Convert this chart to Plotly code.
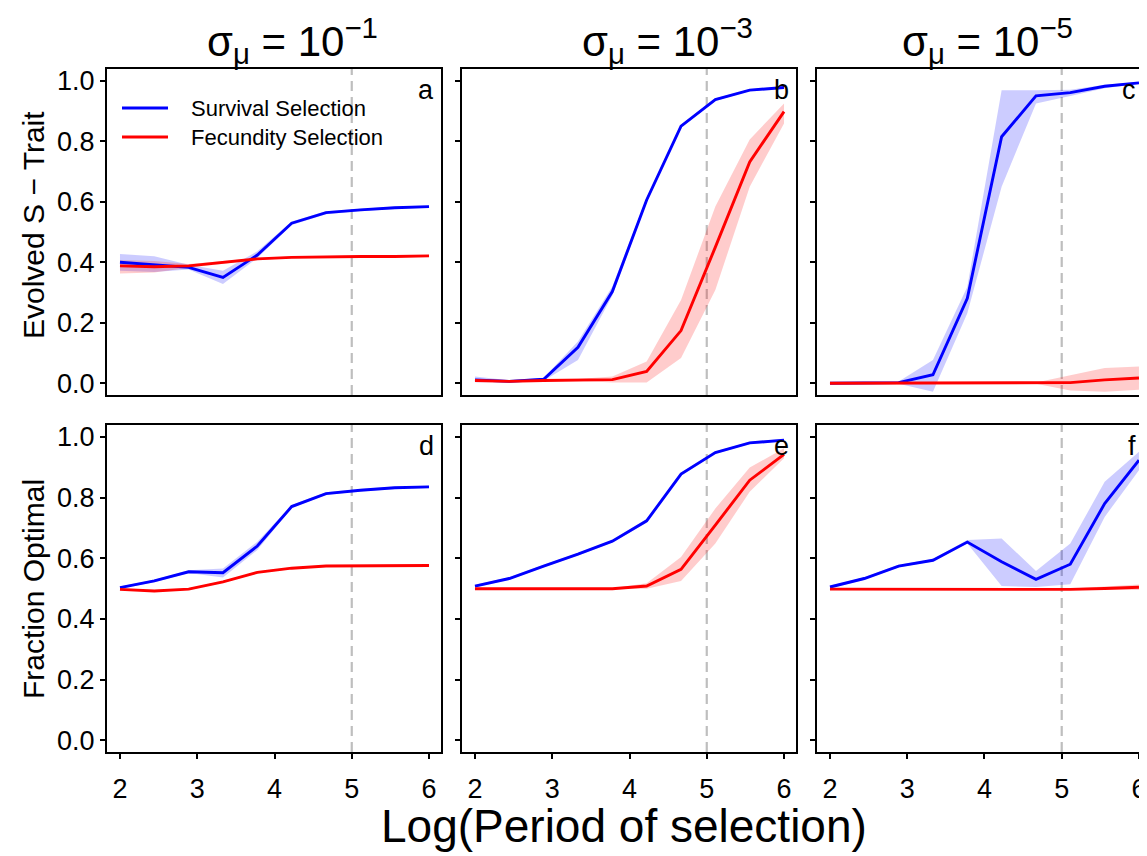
import plotly.graph_objects as go

# page body has an 8px default margin; the figure starts 8px in from the top-left
PAGE_OFF = 8
W, H = 1147 - PAGE_OFF, 856 - PAGE_OFF

# ---------------- data ----------------
log_period = [2.0, 2.444, 2.889, 3.333, 3.778, 4.222, 4.667, 5.111, 5.556, 6.0]

# Row 1: Evolved S-Trait
surv_mean_a = [0.400, 0.391, 0.383, 0.350, 0.424, 0.529, 0.564, 0.573, 0.580, 0.584]
surv_lo_a = [0.372, 0.368, 0.376, 0.328, 0.414, 0.523, 0.559, 0.569, 0.576, 0.580]
surv_hi_a = [0.427, 0.420, 0.392, 0.372, 0.436, 0.535, 0.569, 0.577, 0.584, 0.588]
fec_mean_a = [0.388, 0.385, 0.388, 0.400, 0.411, 0.416, 0.418, 0.419, 0.419, 0.421]
fec_lo_a = [0.363, 0.366, 0.382, 0.396, 0.408, 0.413, 0.415, 0.416, 0.416, 0.418]
fec_hi_a = [0.407, 0.404, 0.394, 0.404, 0.414, 0.419, 0.421, 0.422, 0.422, 0.424]

surv_mean_b = [0.011, 0.006, 0.013, 0.119, 0.303, 0.606, 0.850, 0.938, 0.969, 0.978]
surv_lo_b = [0.003, 0.003, 0.008, 0.077, 0.290, 0.598, 0.845, 0.934, 0.966, 0.975]
surv_hi_b = [0.022, 0.010, 0.018, 0.138, 0.320, 0.614, 0.855, 0.942, 0.972, 0.981]
fec_mean_b = [0.009, 0.006, 0.009, 0.011, 0.012, 0.039, 0.174, 0.450, 0.732, 0.898]
fec_lo_b = [0.005, 0.003, 0.006, 0.008, 0.002, 0.002, 0.083, 0.308, 0.650, 0.859]
fec_hi_b = [0.013, 0.009, 0.012, 0.014, 0.022, 0.072, 0.275, 0.584, 0.806, 0.925]

surv_mean_c = [0.000, 0.000, 0.002, 0.028, 0.281, 0.815, 0.950, 0.961, 0.982, 0.993]
surv_lo_c = [-0.002, -0.002, -0.002, -0.028, 0.231, 0.650, 0.925, 0.950, 0.975, 0.990]
surv_hi_c = [0.002, 0.002, 0.006, 0.077, 0.319, 0.969, 0.969, 0.970, 0.987, 0.996]
fec_mean_c = [0.000, 0.000, 0.000, 0.000, 0.000, 0.000, 0.000, 0.002, 0.011, 0.017]
fec_lo_c = [-0.002, -0.002, -0.002, -0.002, -0.002, -0.002, -0.002, -0.024, -0.028, -0.022]
fec_hi_c = [0.002, 0.002, 0.002, 0.002, 0.002, 0.002, 0.002, 0.026, 0.050, 0.055]

# Row 2: Fraction Optimal
surv_mean_d = [0.503, 0.525, 0.555, 0.552, 0.640, 0.770, 0.813, 0.824, 0.832, 0.835]
surv_lo_d = [0.499, 0.521, 0.551, 0.536, 0.627, 0.765, 0.809, 0.820, 0.828, 0.831]
surv_hi_d = [0.507, 0.529, 0.560, 0.566, 0.654, 0.775, 0.817, 0.828, 0.836, 0.839]
fec_mean_d = [0.497, 0.492, 0.498, 0.522, 0.553, 0.567, 0.574, 0.574, 0.575, 0.576]
fec_lo_d = [0.494, 0.489, 0.495, 0.519, 0.550, 0.564, 0.571, 0.571, 0.572, 0.573]
fec_hi_d = [0.500, 0.495, 0.501, 0.525, 0.556, 0.570, 0.577, 0.577, 0.578, 0.579]

surv_mean_e = [0.508, 0.533, 0.574, 0.613, 0.656, 0.723, 0.877, 0.948, 0.980, 0.989]
surv_lo_e = [0.504, 0.529, 0.570, 0.609, 0.652, 0.717, 0.872, 0.944, 0.976, 0.985]
surv_hi_e = [0.512, 0.537, 0.578, 0.617, 0.660, 0.729, 0.882, 0.952, 0.984, 0.993]
fec_mean_e = [0.499, 0.499, 0.499, 0.499, 0.499, 0.508, 0.563, 0.709, 0.857, 0.942]
fec_lo_e = [0.497, 0.497, 0.497, 0.497, 0.497, 0.499, 0.525, 0.648, 0.819, 0.929]
fec_hi_e = [0.501, 0.501, 0.501, 0.501, 0.501, 0.517, 0.604, 0.764, 0.899, 0.962]

surv_mean_f = [0.505, 0.533, 0.574, 0.593, 0.653, 0.588, 0.530, 0.580, 0.780, 0.923]
surv_lo_f = [0.501, 0.529, 0.570, 0.589, 0.648, 0.508, 0.505, 0.514, 0.736, 0.890]
surv_hi_f = [0.509, 0.537, 0.578, 0.597, 0.660, 0.665, 0.558, 0.648, 0.852, 0.951]
fec_mean_f = [0.498, 0.498, 0.497, 0.498, 0.498, 0.498, 0.498, 0.497, 0.500, 0.504]
fec_lo_f = [0.495, 0.495, 0.494, 0.495, 0.495, 0.495, 0.495, 0.494, 0.494, 0.495]
fec_hi_f = [0.501, 0.501, 0.500, 0.501, 0.501, 0.501, 0.501, 0.500, 0.507, 0.513]

panel_letters = ["a", "b", "c", "d", "e", "f"]
sigma_exponents = ["\u22121", "\u22123", "\u22125"]
row_titles = ["Evolved S \u2212 Trait", "Fraction Optimal"]
x_title = "Log(Period of selection)"
legend_labels = ["Survival Selection", "Fecundity Selection"]
y_ticks = [0.0, 0.2, 0.4, 0.6, 0.8, 1.0]
x_ticks = [2, 3, 4, 5, 6]
threshold_x = 5

panels = [
    (surv_mean_a, surv_lo_a, surv_hi_a, fec_mean_a, fec_lo_a, fec_hi_a),
    (surv_mean_b, surv_lo_b, surv_hi_b, fec_mean_b, fec_lo_b, fec_hi_b),
    (surv_mean_c, surv_lo_c, surv_hi_c, fec_mean_c, fec_lo_c, fec_hi_c),
    (surv_mean_d, surv_lo_d, surv_hi_d, fec_mean_d, fec_lo_d, fec_hi_d),
    (surv_mean_e, surv_lo_e, surv_hi_e, fec_mean_e, fec_lo_e, fec_hi_e),
    (surv_mean_f, surv_lo_f, surv_hi_f, fec_mean_f, fec_lo_f, fec_hi_f),
]

# ---------------- styling ----------------
FONT = "Liberation Sans, Arial, Helvetica, sans-serif"
BLUE = "#0000FF"
RED = "#FF0000"
BLUE_FILL = "rgba(0,0,255,0.2)"
RED_FILL = "rgba(255,0,0,0.2)"

def px(x):
    # screen pixel -> paper fraction
    return (x - PAGE_OFF) / W

def py(y):
    return 1 - (y - PAGE_OFF) / H

col_px = [(107, 441), (462, 796), (817, 1147)]
row_px = [(69, 395), (425, 752)]
x_ranges = [[1.832, 6.155], [1.832, 6.155], [1.832, 6.104]]
y_range = [-0.039, 1.039]

fig = go.Figure()

for i, (sm, sl, sh, fm, fl, fh) in enumerate(panels):
    ax = "" if i == 0 else str(i + 1)
    xa, ya = "x" + ax, "y" + ax
    for mean, lo, hi, col, fill in [(sm, sl, sh, BLUE, BLUE_FILL), (fm, fl, fh, RED, RED_FILL)]:
        fig.add_trace(go.Scatter(x=log_period, y=hi, mode="lines", line=dict(width=0),
                                 xaxis=xa, yaxis=ya, showlegend=False, hoverinfo="skip"))
        fig.add_trace(go.Scatter(x=log_period, y=lo, mode="lines", line=dict(width=0),
                                 fill="tonexty", fillcolor=fill,
                                 xaxis=xa, yaxis=ya, showlegend=False, hoverinfo="skip"))
    for mean, col, name in [(sm, BLUE, legend_labels[0]), (fm, RED, legend_labels[1])]:
        fig.add_trace(go.Scatter(x=log_period, y=mean, mode="lines", name=name,
                                 line=dict(color=col, width=2.9),
                                 xaxis=xa, yaxis=ya, showlegend=False))

layout = dict(
    width=W, height=H,
    margin=dict(l=0, r=0, t=0, b=0, autoexpand=False),
    paper_bgcolor="white", plot_bgcolor="white",
    font=dict(family=FONT, color="black"),
    showlegend=False,
)

shapes = []
annotations = []
for i in range(6):
    r, c = divmod(i, 3)
    ax = "" if i == 0 else str(i + 1)
    x0, x1 = col_px[c]
    y0, y1 = row_px[r]
    layout["xaxis" + ax] = dict(
        domain=[px(x0), min(1.0, px(x1))], range=x_ranges[c], anchor="y" + ax, automargin=False,
        showgrid=False, zeroline=False, showline=True, mirror=True,
        linecolor="black", linewidth=2.2,
        tickmode="array", tickvals=x_ticks,
        ticks="outside" if r == 1 else "", ticklen=5, tickwidth=1.6, tickcolor="black",
        showticklabels=(r == 1), tickfont=dict(size=27, family=FONT),
        ticklabelstandoff=6, ticklabeloverflow="allow",
    )
    layout["yaxis" + ax] = dict(
        domain=[py(y1), py(y0)], range=y_range, anchor="x" + ax, automargin=False,
        showgrid=False, zeroline=False, showline=True, mirror=True,
        linecolor="black", linewidth=2.2,
        tickmode="array", tickvals=y_ticks, tickformat=".1f",
        ticks="outside", ticklen=5, tickwidth=1.6, tickcolor="black",
        showticklabels=(c == 0), tickfont=dict(size=27, family=FONT),
    )
    shapes.append(dict(type="line", xref="x" + ax, yref="y" + ax + " domain",
                       x0=threshold_x, x1=threshold_x, y0=0, y1=1, layer="below",
                       line=dict(color="#BEBEBE", width=2.2, dash="10px,6px")))
    annotations.append(dict(text=panel_letters[i], xref="paper", yref="paper",
                            x=px(x1 - 5 if c < 2 else 1138), y=py(y0 + 21),
                            xanchor="right", yanchor="middle", showarrow=False,
                            font=dict(size=27, family=FONT, color="black")))

# column titles
for c, (cx, e) in enumerate(zip([292, 667, 987], sigma_exponents)):
    annotations.append(dict(text="\u03c3<sub>\u03bc</sub> = 10<sup>" + e + "</sup>",
                            xref="paper", yref="paper", x=px(cx), y=py(41),
                            xanchor="center", yanchor="middle", showarrow=False,
                            font=dict(size=42, family=FONT, color="black")))

# row titles
for r, (t, cy) in enumerate(zip(row_titles, [225, 589])):
    annotations.append(dict(text=t, xref="paper", yref="paper", x=px(33), y=py(cy),
                            xanchor="center", yanchor="middle", textangle=-90,
                            showarrow=False, font=dict(size=30, family=FONT, color="black")))

# x title
annotations.append(dict(text=x_title, xref="paper", yref="paper", x=px(624), y=py(826),
                        xanchor="center", yanchor="middle", showarrow=False,
                        font=dict(size=46, family=FONT, color="black")))

# legend in panel a
for k, (lab, col, ly) in enumerate([(legend_labels[0], BLUE, 108), (legend_labels[1], RED, 137)]):
    shapes.append(dict(type="line", xref="paper", yref="paper",
                       x0=px(122), x1=px(168), y0=py(ly), y1=py(ly),
                       line=dict(color=col, width=2.9)))
    annotations.append(dict(text=lab, xref="paper", yref="paper", x=px(189), y=py(ly),
                            xanchor="left", yanchor="middle", showarrow=False,
                            font=dict(size=22, family=FONT, color="black")))

layout["shapes"] = shapes
layout["annotations"] = annotations
fig.update_layout(**layout)
fig.write_html("out.html")
